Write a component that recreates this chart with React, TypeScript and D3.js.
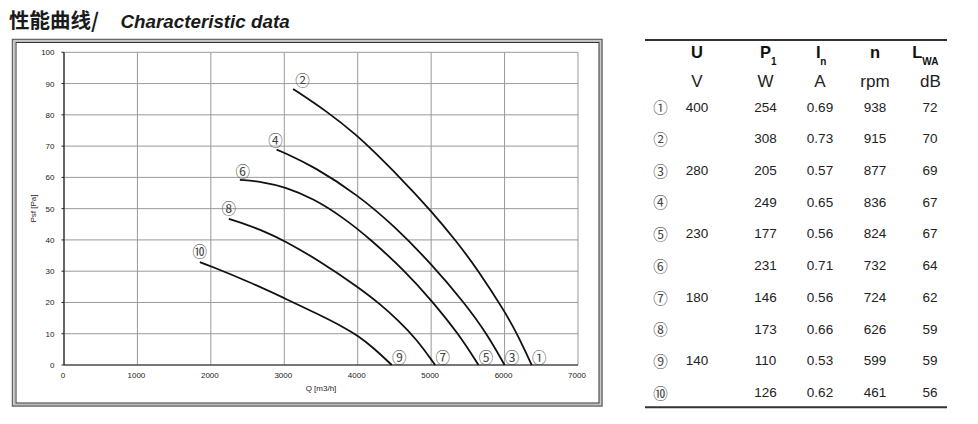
import React from 'react';
import * as d3 from 'd3';

// ---- chart data ----
const xTicks = [0, 1000, 2000, 3000, 4000, 5000, 6000, 7000];
const yTicks = [0, 10, 20, 30, 40, 50, 60, 70, 80, 90, 100];

const curve1Q = [3120, 3600, 4000, 4170, 4580, 5000, 5340, 5640, 6000, 6170, 6370];
const curve1P = [88.3, 80.8, 73.2, 69.4, 59.9, 49.3, 39.7, 30.3, 17.2, 10, 0];
const curve2Q = [2895, 3000, 3400, 4000, 4500, 5000, 5450, 5760, 6000];
const curve2P = [68.9, 67.9, 63.5, 54.4, 44.4, 32.4, 20, 10, 0];
const curve3Q = [2395, 2700, 3000, 3400, 3800, 4170, 4645, 5000, 5373, 5645];
const curve3P = [59.2, 58.6, 57.0, 53.2, 47.2, 40.3, 30, 20.8, 10, 0];
const curve4Q = [2245, 2500, 2750, 3000, 3500, 4000, 4300, 4550, 4800, 5055];
const curve4P = [46.7, 44.8, 42.5, 39.8, 33.0, 25.0, 19.6, 14.3, 8.3, 0];
const curve5Q = [1850, 2000, 2500, 3000, 3500, 3800, 4000, 4200, 4464];
const curve5P = [32.9, 31.6, 26.8, 21.4, 15.8, 12.2, 9.4, 5.8, 0];

const curveStartLabels = ['②', '④', '⑥', '⑧', '⑩'];
const curveEndLabels = ['①', '③', '⑤', '⑦', '⑨'];

// ---- table data ----
const rowLabels = ['①', '②', '③', '④', '⑤', '⑥', '⑦', '⑧', '⑨', '⑩'];
const voltage = ['400', '', '280', '', '230', '', '180', '', '140', ''];
const power = ['254', '308', '205', '249', '177', '231', '146', '173', '110', '126'];
const current = ['0.69', '0.73', '0.57', '0.65', '0.56', '0.71', '0.56', '0.66', '0.53', '0.62'];
const speed = ['938', '915', '877', '836', '824', '732', '724', '626', '599', '461'];
const sound = ['72', '70', '69', '67', '67', '64', '62', '59', '59', '56'];
const unitLabels = ['V', 'W', 'A', 'rpm', 'dB'];

// ---- layout (styles, not data) ----
const startLabelOffsets = [[9.5, -9], [-1, -10], [3, -9.5], [0, -11], [0, -11.5]];
const SANS = "'Liberation Sans', Arial, sans-serif";
const CJK = "'Noto Sans CJK JP', 'Noto Sans CJK SC', sans-serif";

export default function App() {
  const x = d3.scaleLinear().domain([0, 7000]).range([64, 578]);
  const y = d3.scaleLinear().domain([0, 100]).range([365, 52.3]);
  const curves = [
    [curve1Q, curve1P],
    [curve2Q, curve2P],
    [curve3Q, curve3P],
    [curve4Q, curve4P],
    [curve5Q, curve5P],
  ];
  const line = d3
    .line<[number, number]>()
    .x((d) => x(d[0]))
    .y((d) => y(d[1]))
    .curve(d3.curveBasis);

  const colX = [697, 765.5, 820, 875, 930];
  const rowY = d3.scaleLinear().domain([0, 9]).range([106.7, 392.3]);
  const sepYs = [1, 3, 5, 7].map((i) => (rowY(i) + rowY(i + 1)) / 2);

  return (
    <svg
      width={978}
      height={424}
      style={{ position: 'absolute', left: 0, top: 0, background: '#fff' }}
    >
      <defs>
        <linearGradient id="sep" x1="0" x2="1" y1="0" y2="0">
          <stop offset="0" stopColor="#fff" />
          <stop offset="0.5" stopColor="#777" />
          <stop offset="1" stopColor="#fff" />
        </linearGradient>
      </defs>
      {/* title */}
      <text x={9} y={28} fontFamily={CJK} fontWeight="bold" fontSize={20.5} fill="#1a1a1a">
        性能曲线/
      </text>
      <text
        x={120.5}
        y={28}
        fontFamily={SANS}
        fontWeight="bold"
        fontStyle="italic"
        fontSize={18.8}
        fill="#1a1a1a"
      >
        Characteristic data
      </text>

      {/* frame */}
      <rect x={12.5} y={39.5} width={589.5} height={366.5} fill="none" stroke="#666" strokeWidth={1.5} />
      <rect x={14.5} y={41.2} width={585.5} height={363} fill="none" stroke="#bbb" strokeWidth={1.5} />
      <rect x={16} y={42.5} width={583} height={360.5} fill="none" stroke="#333" strokeWidth={1} />

      {/* grid */}
      {xTicks.map((t) => (
        <line key={'gx' + t} x1={x(t)} x2={x(t)} y1={y(100)} y2={y(0)} stroke="#999" strokeWidth={1} />
      ))}
      {yTicks.map((t) => (
        <line key={'gy' + t} x1={x(0)} x2={x(7000)} y1={y(t)} y2={y(t)} stroke="#999" strokeWidth={1} />
      ))}
      {yTicks.map((t) => (
        <line key={'ty' + t} x1={x(0) - 2.5} x2={x(0)} y1={y(t)} y2={y(t)} stroke="#222" strokeWidth={1} />
      ))}
      <line x1={x(0)} x2={x(0)} y1={y(100)} y2={y(0)} stroke="#222" strokeWidth={1.2} />
      <line x1={x(0)} x2={x(7000)} y1={y(0)} y2={y(0)} stroke="#222" strokeWidth={1.2} />

      {/* tick labels */}
      {yTicks.map((t) => (
        <text
          key={'ly' + t}
          x={54.5}
          y={y(t) + 3}
          textAnchor="end"
          fontFamily={SANS}
          fontSize={8}
          fill="#222"
        >
          {t}
        </text>
      ))}
      {xTicks.map((t) => (
        <text
          key={'lx' + t}
          x={x(t) - 1}
          y={378}
          textAnchor="middle"
          fontFamily={SANS}
          fontSize={8}
          fill="#222"
        >
          {t}
        </text>
      ))}
      <text x={321} y={391} textAnchor="middle" fontFamily={SANS} fontSize={8} fill="#222">
        Q [m3/h]
      </text>
      <text
        transform={`translate(35.5,208.5) rotate(-90)`}
        textAnchor="middle"
        fontFamily={SANS}
        fontSize={8}
        fill="#222"
      >
        Psf [Pa]
      </text>

      {/* curves */}
      {curves.map(([qs, ps], i) => {
        const pts = qs.map((q, j) => [q, ps[j]] as [number, number]);
        return (
          <path key={'c' + i} d={line(pts) || ''} fill="none" stroke="#111" strokeWidth={1.8} />
        );
      })}
      {curves.map(([qs, ps], i) => (
        <text
          key={'sl' + i}
          x={x(qs[0]) + startLabelOffsets[i][0]}
          y={y(ps[0]) + startLabelOffsets[i][1]}
          textAnchor="middle"
          dominantBaseline="central"
          fontFamily={CJK}
          fontSize={14.5}
          fill="#444"
        >
          {curveStartLabels[i]}
        </text>
      ))}
      {curves.map(([qs, ps], i) => (
        <text
          key={'el' + i}
          x={x(qs[qs.length - 1]) + 7.5}
          y={y(ps[ps.length - 1]) - 8.5}
          textAnchor="middle"
          dominantBaseline="central"
          fontFamily={CJK}
          fontSize={14.5}
          fill="#444"
        >
          {curveEndLabels[i]}
        </text>
      ))}

      {/* table */}
      <line x1={645} x2={947} y1={40} y2={40} stroke="#333" strokeWidth={2} />
      <line x1={645} x2={947} y1={91.7} y2={91.7} stroke="url(#sep)" strokeWidth={1.2} />
      {sepYs.map((sy, i) => (
        <line key={'sep' + i} x1={645} x2={947} y1={sy} y2={sy} stroke="url(#sep)" strokeWidth={1.2} />
      ))}
      <line x1={645} x2={947} y1={407.3} y2={407.3} stroke="#333" strokeWidth={2} />

      {/* header row 1 */}
      <g fontFamily={SANS} fontWeight="bold" fill="#111">
        <text x={colX[0]} y={57.5} fontSize={16.5} textAnchor="middle">U</text>
        <text x={765.5} y={57.5} fontSize={16.5} textAnchor="middle">P</text>
        <text x={771} y={64.5} fontSize={10}>1</text>
        <text x={818.3} y={57.5} fontSize={16.5} textAnchor="middle">I</text>
        <text x={820.3} y={65} fontSize={10}>n</text>
        <text x={colX[3]} y={57.5} fontSize={16.5} textAnchor="middle">n</text>
        <text x={917.3} y={57.5} fontSize={16.5} textAnchor="middle">L</text>
        <text x={922.3} y={65} fontSize={10}>WA</text>
      </g>
      {/* header row 2 */}
      {unitLabels.map((u, i) => (
        <text
          key={'u' + i}
          x={colX[i] + (i === 4 ? 0.5 : 0)}
          y={86.5}
          textAnchor="middle"
          fontFamily={SANS}
          fontSize={17}
          fill="#222"
        >
          {u}
        </text>
      ))}

      {/* rows */}
      {rowLabels.map((lab, i) => {
        const cy = rowY(i);
        const vals = [voltage[i], power[i], current[i], speed[i], sound[i]];
        return (
          <g key={'r' + i}>
            <text
              x={660.5}
              y={cy}
              textAnchor="middle"
              dominantBaseline="central"
              fontFamily={CJK}
              fontSize={14.5}
              fill="#444"
            >
              {lab}
            </text>
            {vals.map((v, j) => (
              <text
                key={j}
                x={colX[j]}
                y={cy + 4.8}
                textAnchor="middle"
                fontFamily={SANS}
                fontSize={13.5}
                fill="#222"
              >
                {v}
              </text>
            ))}
          </g>
        );
      })}
    </svg>
  );
}
